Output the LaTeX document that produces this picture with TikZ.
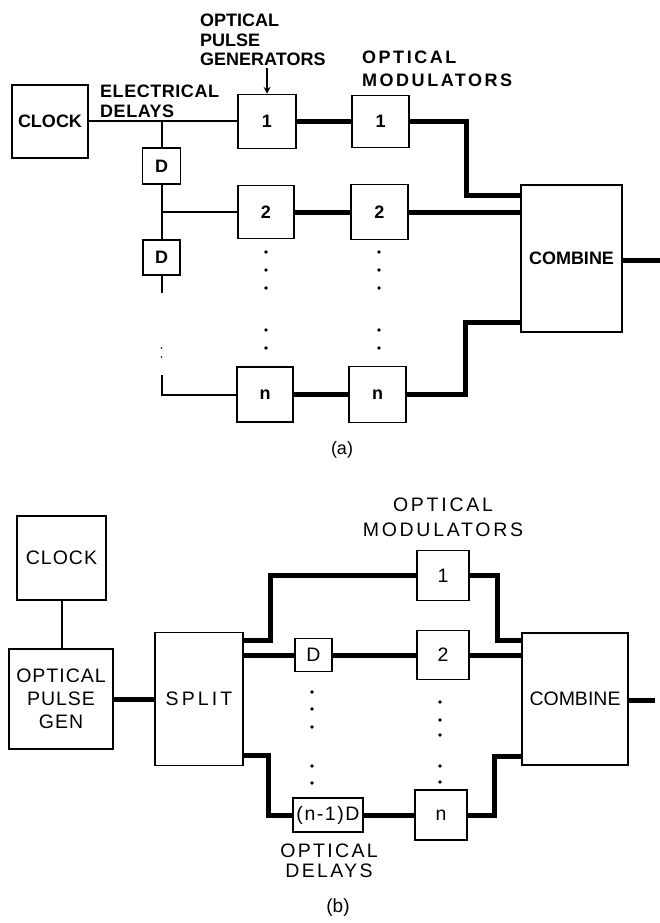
\documentclass[tikz,border=0pt]{standalone}
\usepackage{fontspec}
\setmainfont{Liberation Sans}
\usetikzlibrary{calc,positioning}

\tikzset{
  blk/.style={draw, line width=1.5pt, inner sep=0pt, align=center},
  elec/.style={line width=2pt},
  opt/.style={line width=5pt},
  lbl/.style={inner sep=0pt, font=\fontsize{18}{19}\selectfont}
}

\begin{document}
\begin{tikzpicture}[x=1pt, y=-1pt, >=stealth]
\useasboundingbox (0,0) rectangle (660,923);

% (a) electrical delays
\begin{scope}[font=\fontsize{18}{19}\selectfont\bfseries]
\node[blk, minimum width=76pt, minimum height=73pt] (clka) at (50,121.5) {CLOCK};
\node[blk, minimum width=58pt, minimum height=54pt] (gena1) at (267,121.5) {1};
\node[blk, minimum width=56pt, minimum height=53pt] (gena2) at (266,212) {2};
\node[blk, minimum width=56pt, minimum height=55pt] (genan) at (265,394.5) {n};
\node[blk, minimum width=57pt, minimum height=52pt] (moda1) at (380.5,121.5) {1};
\node[blk, minimum width=57pt, minimum height=55pt] (moda2) at (379.5,212) {2};
\node[blk, minimum width=57pt, minimum height=56pt] (modan) at (377.5,394.5) {n};
\node[blk, minimum width=38pt, minimum height=36pt] (da1) at (161.5,166) {D};
\node[blk, minimum width=37pt, minimum height=35pt] (da2) at (161.5,257.5) {D};
\node[blk, minimum width=101pt, minimum height=147pt] (comba) at (571.5,258.5) {COMBINE};

\node[lbl, font=\fontsize{18}{20}\selectfont\bfseries\addfontfeature{LetterSpace=3}, align=left, anchor=north west] (elecl) at (100,85) {ELECTRICAL\\DELAYS};
\node[lbl, font=\fontsize{18}{19.5}\selectfont\bfseries, align=left, anchor=north west] (genl) at (200,14) {OPTICAL\\PULSE\\GENERATORS};
\node[lbl, font=\fontsize{18}{23}\selectfont\bfseries\addfontfeature{LetterSpace=14}, align=left, anchor=north west] (modl) at (362,51) {OPTICAL\\MODULATORS};
\node[font=\rmfamily\fontsize{18}{18}\selectfont] (capa) at (342,450) {(a)};
\end{scope}

\draw[elec,->] ($(genl.south -| gena1.north)+(0,2)$) -- (gena1.north);
\draw[elec] (clka.east) -- (gena1.west);
\draw[elec] (da1.north) -- (da1.north |- clka.east);
\draw[elec] (da1.south) -- (da2.north);
\draw[elec] (da1.south |- gena2.west) -- (gena2.west);
\coordinate (da2end) at (161.5,293);
\draw[elec] (da2.south) -- (da2end);
\fill (161.5,348) circle (0.9pt) (161.5,357) circle (0.9pt);
\coordinate (danbeg) at (161.5,375);
\draw[elec] (danbeg) |- (genan.west);
\foreach \y in {252,270,288,330,348} {
  \fill (266,\y) circle (1.8pt);
  \fill (379,\y) circle (1.8pt);
}

\draw[opt] (gena1.east) -- (moda1.west);
\draw[opt] (gena2.east) -- (moda2.west);
\draw[opt] (genan.east) -- (modan.west);
\draw[opt] (moda1.east) -- ++(57,0) |- ($(comba.west)+(0,-63.5)$);
\draw[opt] (moda2.east) -- (moda2.east -| comba.west);
\draw[opt] (modan.east) -- ++(59,0) |- ($(comba.west)+(0,63.5)$);
\coordinate (outa) at (660,260);
\draw[opt] (comba.east |- outa) -- (outa);

% (b) optical delays
\begin{scope}[font=\fontsize{19.5}{23}\selectfont\addfontfeature{LetterSpace=5}]
\node[blk, minimum width=89pt, minimum height=84pt] (clkb) at (61.5,558) {CLOCK};
\node[blk, minimum width=104pt, minimum height=100pt] (opgb) at (61,699) {OPTICAL\\PULSE\\GEN};
\node[blk, minimum width=88pt, minimum height=133pt, font=\fontsize{19.5}{23}\selectfont\addfontfeature{LetterSpace=16}] (splb) at (199,699) {SPLIT};
\node[blk, minimum width=37pt, minimum height=33pt] (db) at (313.5,655) {D};
\node[blk, minimum width=70pt, minimum height=34pt, font=\fontsize{19.5}{23}\selectfont\addfontfeature{LetterSpace=8}] (dnb) at (328,815) {(n-1)D};
\node[blk, minimum width=52pt, minimum height=50pt] (modb1) at (443,575.5) {1};
\node[blk, minimum width=52pt, minimum height=49pt] (modb2) at (443,655) {2};
\node[blk, minimum width=52pt, minimum height=50pt] (modbn) at (441,815) {n};
\node[blk, minimum width=106pt, minimum height=132pt, font=\rmfamily\fontsize{19.5}{23}\selectfont] (combb) at (575,699) {COMBINE};

\node[lbl, font=\fontsize{19.5}{25}\selectfont\addfontfeature{LetterSpace=14}, align=center] (modlb) at (443,517) {OPTICAL\\MODULATORS};
\node[lbl, font=\fontsize{19.5}{20}\selectfont\addfontfeature{LetterSpace=12}, align=center] (dellb) at (329,861) {OPTICAL\\DELAYS};
\node[font=\rmfamily\fontsize{19}{19}\selectfont] (capb) at (338,908) {(b)};
\end{scope}

\draw[elec] (clkb.south) -- (clkb.south |- opgb.north);
\draw[opt] (opgb.east) -- (splb.west);
\draw[opt] ($(splb.east)+(0,-59)$) -- ++(27,0) |- (modb1.west);
\draw[opt] (db.west -| splb.east) -- (db.west);
\draw[opt] ($(splb.east)+(0,56)$) -- ++(25,0) |- (dnb.west);
\draw[opt] (db.east) -- (modb2.west);
\draw[opt] (dnb.east) -- (modbn.west);
\foreach \y in {692,709,727,766,783} \fill (312,\y) circle (1.8pt);
\foreach \y in {702,720,735,766,782} \fill (440,\y) circle (1.8pt);
\draw[opt] (modb1.east) -- ++(28,0) |- ($(combb.west)+(0,-59)$);
\draw[opt] (modb2.east) -- (modb2.east -| combb.west);
\draw[opt] (modbn.east) -- ++(27,0) |- ($(combb.west)+(0,57)$);
\coordinate (outb) at (655,700);
\draw[opt] (combb.east |- outb) -- (outb);
\end{tikzpicture}
\end{document}
